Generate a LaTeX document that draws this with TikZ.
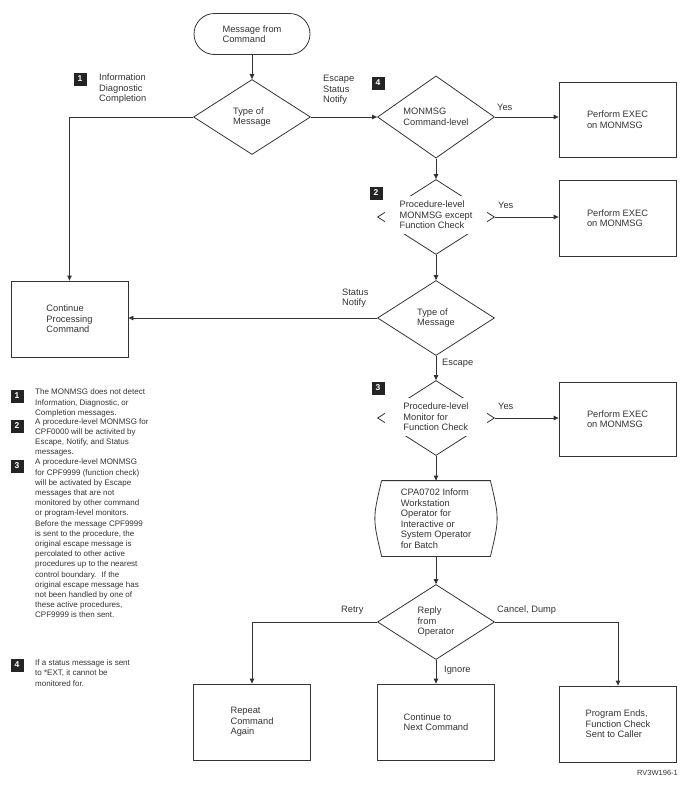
\documentclass[tikz,border=0pt]{standalone}
\usepackage{fontspec}
\setmainfont{Liberation Sans}
\usepackage{tikz}
\usetikzlibrary{arrows.meta,shapes.geometric}
\definecolor{ink}{HTML}{333333}

\begin{document}
\begin{tikzpicture}[x=1pt,y=-1pt,
  every node/.style={font=\fontsize{9.3}{10.5}\selectfont,text=ink},
  wire/.style={draw=ink,line width=0.8pt},
  box/.style={wire,minimum width=117,minimum height=76,align=left,inner sep=0},
  terminal/.style={box,rounded corners=20.5,minimum width=116,minimum height=41},
  decision/.style={wire,diamond,minimum width=117,minimum height=75,align=left,inner sep=0},
  cutout/.style={fill=white,minimum width=102,minimum height=38,align=left,inner sep=0},
  badge/.style={fill=ink!70!black,text=white,minimum size=13,inner sep=0,
    font=\fontsize{8.5}{9}\selectfont\bfseries},
  lbl/.style={anchor=west,align=left,inner sep=0},
  note/.style={lbl,font=\fontsize{8}{10.2}\selectfont},
  flow/.style={wire,-{Triangle[length=5pt,width=4.5pt]}}]
\useasboundingbox (0,0) rectangle (693,790);

\node[terminal] (start) at (252,34) {Message from\\Command};
\node[decision] (type1) at (252,117) {Type of\\Message};
\node[decision] (cmdmon) at (436,117) {MONMSG\\Command-level};
\node[box,minimum height=75] (exec1) at (617.5,119.5) {Perform EXEC\\on MONMSG};
\node[decision] (procmon) at (436,217) {};
\node[cutout] (proctext) at ([yshift=2]procmon.center) {Procedure-level\\MONMSG except\\Function Check};
\node[box] (exec2) at (617.5,218) {Perform EXEC\\on MONMSG};
\node[decision] (type2) at (436,318) {Type of\\Message};
\node[box] (cont) at (69.5,319) {Continue\\Processing\\Command};
\node[decision] (fcmon) at (436,418) {};
\node[cutout] (fctext) at ([yshift=1]fcmon.center) {Procedure-level\\Monitor for\\Function Check};
\node[box,minimum height=74] (exec3) at (617.5,419) {Perform EXEC\\on MONMSG};
\node[box,draw=none,minimum width=108,minimum height=75] (cpa) at (436,518.5)
  {CPA0702 Inform\\Workstation\\Operator for\\Interactive or\\System Operator\\for Batch};
\node[decision] (reply) at (436,622) {Reply\\from\\Operator};
\node[box] (repeat) at (252,722) {Repeat\\Command\\Again};
\node[box] (next) at (436,722) {Continue to\\Next Command};
\node[box] (ends) at (618,724) {Program Ends,\\Function Check\\Sent to Caller};

% bulging sides of the operator message shape
\draw[wire] (cpa.north west) -- (cpa.north east)
  .. controls ([xshift=9]cpa.east) .. (cpa.south east) -- (cpa.south west)
  .. controls ([xshift=-9]cpa.west) .. (cpa.north west);

\draw[flow] (start.south) -- (type1.north);
\draw[flow] (type1.east) -- (cmdmon.west);
\draw[flow] (type1.west) -| (cont.north);
\draw[flow] (cmdmon.east) -- (cmdmon.east -| exec1.west);
\draw[flow] (cmdmon.south) -- (procmon.north);
\draw[flow] (procmon.east) -- (procmon.east -| exec2.west);
\draw[flow] (procmon.south) -- (type2.north);
\draw[flow] (type2.west) -- (type2.west -| cont.east);
\draw[flow] (type2.south) -- (fcmon.north);
\draw[flow] (fcmon.east) -- (fcmon.east -| exec3.west);
\draw[flow] (fcmon.south) -- (cpa.north);
\draw[flow] (cpa.south) -- (reply.north);
\draw[flow] (reply.west) -| (repeat.north);
\draw[flow] (reply.south) -- (next.north);
\draw[flow] (reply.east) -| (ends.north);

% connector labels and callouts
\node[badge] (b1top) at (80,79) {1};
\node[lbl] (infolbl) at (99,89) {Information\\Diagnostic\\Completion};
\node[lbl] (esclbl) at (323,90) {Escape\\Status\\Notify};
\node[badge] (b4top) at (378,83) {4};
\node[lbl] (yes1) at (497,107) {Yes};
\node[badge] (b2top) at (376,193) {2};
\node[lbl] (yes2) at (498,205) {Yes};
\node[lbl] (statlbl) at (342,298) {Status\\Notify};
\node[lbl] (escape) at (442,363) {Escape};
\node[badge] (b3top) at (378,388) {3};
\node[lbl] (yes3) at (498,406) {Yes};
\node[lbl] (retry) at (341,610) {Retry};
\node[lbl] (cancel) at (497,610) {Cancel, Dump};
\node[lbl] (ignore) at (444,670) {Ignore};

% footnotes
\node[badge] (n1) at (17,396) {1};
\node[note] (note1) at (35,403) {The MONMSG does not detect\\Information, Diagnostic, or\\Completion messages.};
\node[badge] (n2) at (17,426) {2};
\node[note] (note2) at (35,437.5) {A procedure-level MONMSG for\\CPF0000 will be activited by\\Escape, Notify, and Status\\messages.};
\node[badge] (n3) at (17,466) {3};
\node[note] (note3) at (35,538.5) {A procedure-level MONMSG\\for CPF9999 (function check)\\will be activated by Escape\\messages that are not\\monitored by other command\\or program-level monitors.\\Before the message CPF9999\\is sent to the procedure, the\\original escape message is\\percolated to other active\\procedures up to the nearest\\control boundary.~ If the\\original escape message has\\not been handled by one of\\these active procedures,\\CPF9999 is then sent.};
\node[badge] (n4) at (17,665) {4};
\node[note] (note4) at (35,673) {If a status message is sent\\to *EXT, it cannot be\\monitored for.};

\node[lbl,font=\fontsize{7.5}{9}\selectfont] (figid) at (637,773) {RV3W196-1};
\end{tikzpicture}
\end{document}
